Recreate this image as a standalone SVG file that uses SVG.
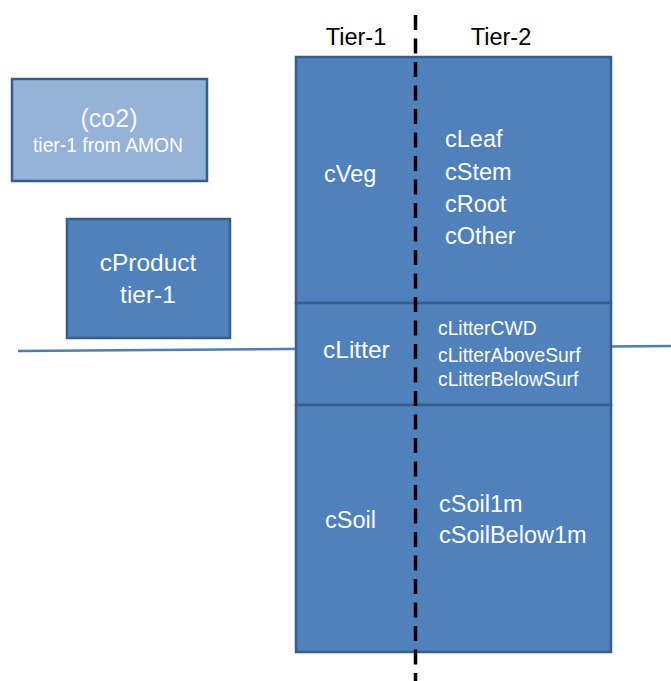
<svg xmlns="http://www.w3.org/2000/svg" width="671" height="681" viewBox="0 0 671 681">
<style>
.box{fill:#4f81bd;stroke:#385d8a;stroke-width:2.5}
.light{fill:#95b3d7;stroke:#385d8a;stroke-width:2.5}
.t{font-family:"Liberation Sans",Arial,sans-serif;fill:#ffffff}
.big{font-size:23.5px}
.sm{font-size:19.3px}
.hdr{font-family:"Liberation Sans",Arial,sans-serif;fill:#000000;font-size:23.5px}
</style>
<rect width="671" height="681" fill="#ffffff"/>
<g id="connectors">
<line x1="18" y1="351" x2="671" y2="346" stroke="#4a7ebb" stroke-width="2.5"/>
</g>
<g id="co2">
<rect class="light" x="12" y="79" width="195" height="102"/>
<text class="t" x="109" y="127" text-anchor="middle" font-size="25" fill-opacity="0.95">(co2)</text>
<text class="t sm" x="108" y="152" text-anchor="middle">tier-1 from AMON</text>
</g>
<g id="cProduct">
<rect class="box" x="67" y="219" width="163" height="119"/>
<text class="t" x="148" y="271" text-anchor="middle" font-size="24.5">cProduct</text>
<text class="t" x="148" y="303" text-anchor="middle" font-size="24.5">tier-1</text>
</g>
<g id="cVeg">
<rect class="box" x="296" y="57" width="315" height="246"/>
<text class="t big" x="324" y="182">cVeg</text>
<text class="t big" x="445" y="147">cLeaf</text>
<text class="t big" x="445" y="180">cStem</text>
<text class="t big" x="445" y="212">cRoot</text>
<text class="t big" x="445" y="244">cOther</text>
</g>
<g id="cLitter">
<rect class="box" x="296" y="303" width="315" height="102"/>
<text class="t" x="323" y="358" font-size="24.5">cLitter</text>
<text class="t sm" x="438" y="335">cLitterCWD</text>
<text class="t sm" x="438" y="362">cLitterAboveSurf</text>
<text class="t sm" x="438" y="386">cLitterBelowSurf</text>
</g>
<g id="cSoil">
<rect class="box" x="296" y="405" width="315" height="247"/>
<text class="t big" x="325" y="528">cSoil</text>
<text class="t big" x="439" y="512">cSoil1m</text>
<text class="t big" x="439" y="543">cSoilBelow1m</text>
</g>
<g id="tiers">
<text class="hdr" x="356" y="45" text-anchor="middle">Tier-1</text>
<text class="hdr" x="501" y="45" text-anchor="middle">Tier-2</text>
<line x1="415.5" y1="15" x2="415.5" y2="681" stroke="#000000" stroke-width="3.5" stroke-dasharray="15 8.5"/>
</g>
</svg>
